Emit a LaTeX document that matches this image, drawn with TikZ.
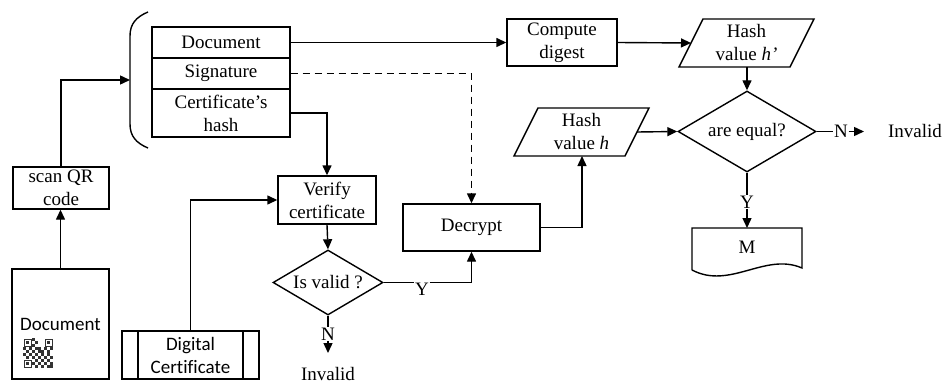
\documentclass[tikz,border=0pt]{standalone}
\usepackage{fontspec}
\setmainfont[Ligatures=NoCommon]{Liberation Serif}
\newfontfamily\calib[Ligatures=NoCommon]{Carlito}
\usetikzlibrary{arrows.meta,shapes.geometric,calc}
\begin{document}
\begin{tikzpicture}[x=1pt,y=-1pt,line width=1.4pt,
  font=\fontsize{19}{23}\selectfont,
  box/.style={draw,rectangle,inner sep=0pt,align=center},
  txt/.style={inner sep=0pt,align=center},
  dia/.style={draw,diamond,inner sep=0pt,align=center},
  arr/.style={-{Triangle[length=10pt,width=9pt]}},
  qrm/.style={fill=black!80,draw=none}]
\useasboundingbox (0,0) rectangle (942,385);

% stacked QR content
\node[box,minimum width=138,minimum height=31] (doc) at (221,42.5) {Document};
\node[box,minimum width=138,minimum height=31] (sig) at (221,73.5) {Signature};
\node[box,minimum width=138,minimum height=48] (ch) at (221,113) {Certificate's\\hash};
\draw (148,12) .. controls (136,17) and (130,24) .. (130,36) -- (130,124) .. controls (130,136) and (136,143) .. (148,148);
\coordinate (br) at (130,80);

% left column
\node[box,minimum width=96,minimum height=42] (sq) at (61,188) {scan QR\\code};
\node[box,minimum width=97,minimum height=110] (docq) at (60.5,324) {};
\node[txt,font=\calib\fontsize{19}{23}\selectfont] (doct) at (60.5,324) {Document};
% QR icon
\begin{scope}[line width=0.8pt]
  \draw[black!80] (24,339) rectangle (31,346); \fill[black!80] (26,341) rectangle (29,344);
  \draw[black!80] (45,339) rectangle (52,346); \fill[black!80] (47,341) rectangle (50,344);
  \draw[black!80] (24,360) rectangle (31,367); \fill[black!80] (26,362) rectangle (29,365);
  \foreach \i/\j in {3/0,4/1,3/2,4/3,0/3,1/4,2/3,3/4,5/3,6/4,7/3,8/4,9/3,4/5,5/4,6/5,7/6,8/5,9/6,3/6,5/6,4/7,6/7,8/7,9/8,3/8,5/8,7/8,4/9,6/9,8/9,9/9,0/5,2/5,1/6}
    \fill[black!80] (23+3*\i,338+3*\j) rectangle ++(3,3);
\end{scope}

% digital certificate
\node[box,minimum width=137,minimum height=48,font=\calib\fontsize{19}{23}\selectfont] (dc) at (190.5,355) {Digital\\Certificate};
\draw (138,331) -- (138,379);
\draw (243,331) -- (243,379);

% verify and decision
\node[box,minimum width=98,minimum height=48] (vc) at (327,200) {Verify\\certificate};
\node[dia,minimum width=110,minimum height=65,aspect=1.69] (iv) at (328,282.5) {Is valid ?};
\node[txt] (n1) at (328,334) {N};
\coordinate (n1e) at (328,353);
\node[txt] (inv1) at (328,374) {Invalid};
\node[txt] (y1) at (422,289) {Y};

% decrypt
\node[box,minimum width=137,minimum height=47] (dec) at (471.5,227.5) {Decrypt};

% compute digest
\node[box,minimum width=110,minimum height=47] (cd) at (562,42.5) {Compute\\digest};

% hash h'
\node[txt] (hp) at (746.5,43) {Hash\\value \textit{h'}};
\draw (703,19) -- (814,19) -- (790,67) -- (679,67) -- cycle;
\coordinate (hpL) at (691,43);
\coordinate (hpB) at (747,67);

% hash h
\node[txt] (hh) at (581.5,132) {Hash\\value \textit{h}};
\draw (538,108) -- (649,108) -- (625,156) -- (514,156) -- cycle;
\coordinate (hhR) at (637,132);
\coordinate (hhB) at (582,156);

% equal decision
\node[dia,minimum width=138,minimum height=81,aspect=1.7] (eq) at (747,131.5) {are equal?};
\node[txt] (n2) at (841,131.5) {N};
\coordinate (n2e) at (864,131.5);
\node[txt] (inv2) at (915,131.5) {Invalid};
\node[txt] (y2) at (747,202) {Y};

% M document
\node[txt] (m) at (747,247) {M};
\draw (692,270) -- (692,228) -- (802,228) -- (802,268) .. controls (765,252) and (730,290) .. (692,270);
\coordinate (mT) at (747,228);

% connectors
\draw[arr] (docq.north) -- (docq.north |- sq.south);
\draw[arr] (sq.north) |- (br);
\draw[arr] (doc.east) -- (cd.west);
\draw[arr] (cd.east) -- (hpL);
\draw[arr] (hpB) -- (eq.north);
\draw[arr,dash pattern=on 7pt off 5pt] (sig.east) -| (dec.north);
\draw[arr] (ch.east) -| (vc.north);
\draw[arr] (dc.north) |- (vc.west);
\draw[arr] (vc.south) -- (iv.north);
\draw (iv.south) -- (n1.north);
\draw[arr] (n1.south) -- (n1e);
\draw (iv.east) -- (y1.west |- iv.east);
\draw[arr] (y1.east |- iv.east) -| (dec.south);
\draw[arr] (dec.east) -| (hhB);
\draw[arr] (hhR) -- (eq.west);
\draw (eq.east) -- (n2.west);
\draw[arr] (n2.east) -- (n2e);
\draw (eq.south) -- (y2.north);
\draw[arr] (y2.south) -- (mT);
\end{tikzpicture}
\end{document}
